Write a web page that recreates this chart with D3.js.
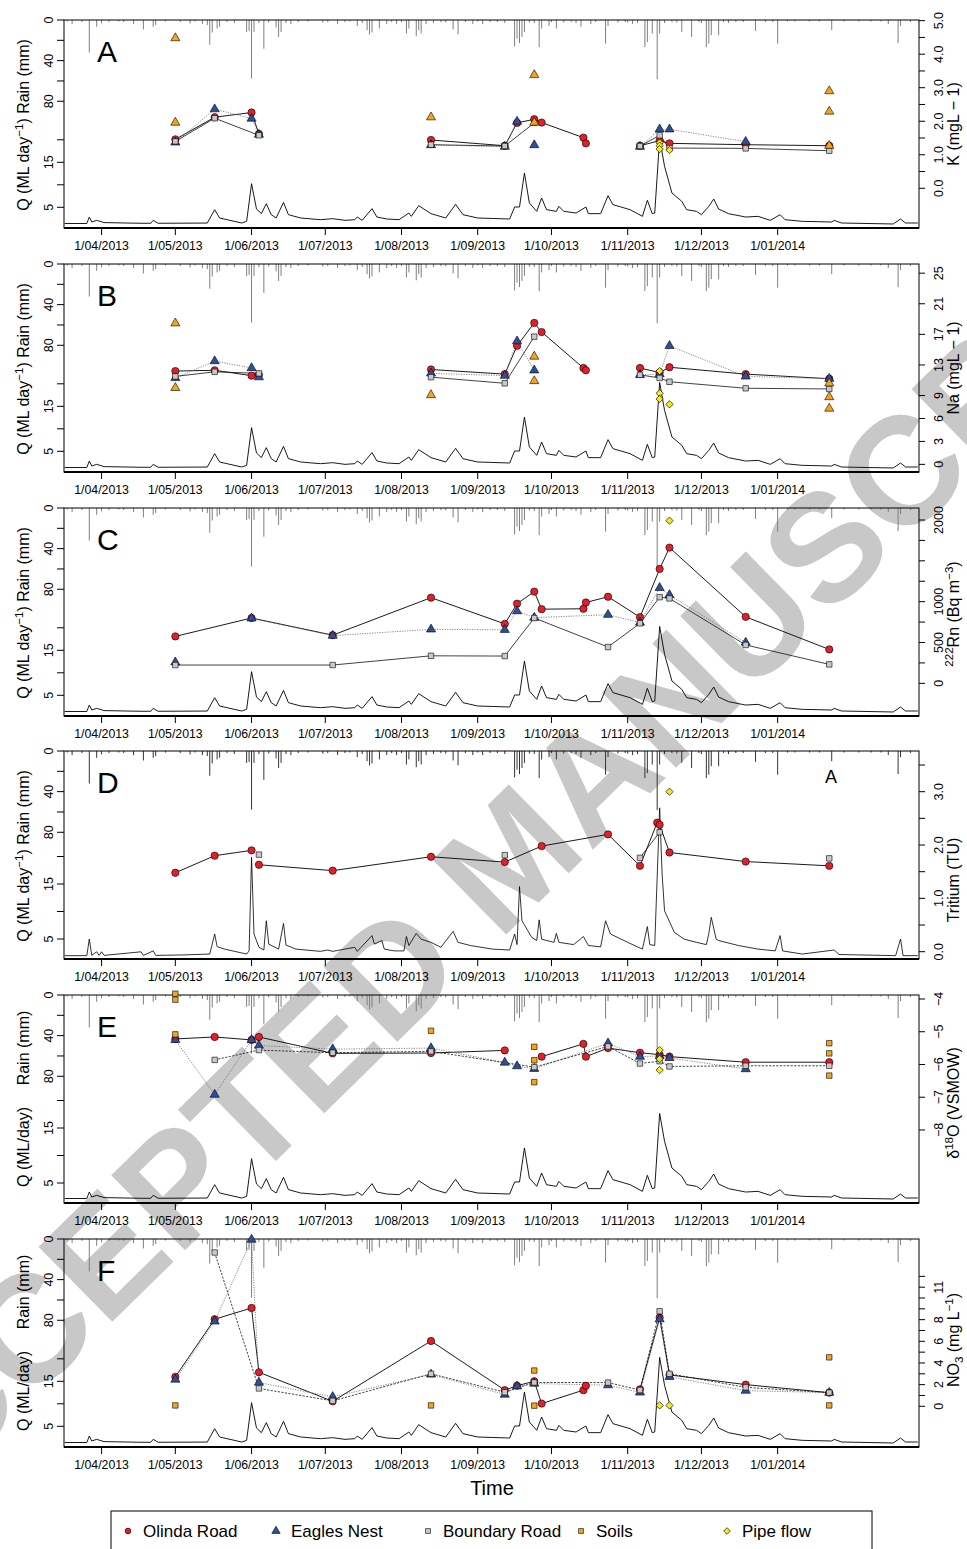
<!DOCTYPE html>
<html>
<head>
<meta charset="utf-8">
<script src="https://cdn.jsdelivr.net/npm/d3@7"></script>
<style>
  body { margin: 0; background: #fff; }
  svg { display: block; font-family: "Liberation Sans", Arial, Helvetica, sans-serif; }
</style>
</head>
<body>
<svg id="chart" width="967" height="1549"></svg>
<script>
// ---- data ----

// daily rain (mm)
var rain = [
  ["2013-03-18",1.5],["2013-03-20",4],["2013-03-24",2],["2013-03-27",32],["2013-03-30",6.7],["2013-04-01",3.3],
  ["2013-04-04",2],["2013-04-08",1.5],["2013-04-10",2],["2013-04-14",4],["2013-04-18",9.3],["2013-04-22",6.7],
  ["2013-04-23",5],["2013-04-27",1.5],["2013-05-03",2],["2013-05-07",3.3],["2013-05-09",1.5],["2013-05-12",4],
  ["2013-05-14",5],["2013-05-15",24.3],["2013-05-16",12.3],["2013-05-18",8.3],["2013-05-19",6.7],["2013-05-22",2],
  ["2013-05-25",3],["2013-05-30",11.7],["2013-05-31",10.7],["2013-06-01",57.7],["2013-06-02",11.7],["2013-06-04",3],
  ["2013-06-06",28.3],["2013-06-08",2.5],["2013-06-11",7.3],["2013-06-12",16.7],["2013-06-13",11.7],["2013-06-15",3],
  ["2013-06-17",4],["2013-06-20",2],["2013-06-24",1.5],["2013-06-30",2.7],["2013-07-02",2],["2013-07-06",4],
  ["2013-07-09",2],["2013-07-11",1.5],["2013-07-14",6],["2013-07-16",3],["2013-07-18",10],["2013-07-19",14.3],
  ["2013-07-20",12.3],["2013-07-23",8.3],["2013-07-26",4],["2013-07-28",2],["2013-07-30",4],["2013-08-01",2],
  ["2013-08-03",13.3],["2013-08-04",8.3],["2013-08-07",16],["2013-08-08",10],["2013-08-09",13.3],["2013-08-11",4],
  ["2013-08-14",3],["2013-08-17",2],["2013-08-19",2.5],["2013-08-22",9.3],["2013-08-24",14],["2013-08-27",2],
  ["2013-08-30",4],["2013-09-01",1.5],["2013-09-03",4],["2013-09-06",2],["2013-09-09",2],["2013-09-12",3],
  ["2013-09-16",26],["2013-09-17",18.3],["2013-09-18",22.7],["2013-09-19",16.7],["2013-09-20",11.7],["2013-09-22",2.5],
  ["2013-09-24",3],["2013-09-26",26.7],["2013-09-27",8.3],["2013-09-30",6],["2013-10-01",2],["2013-10-03",8.3],
  ["2013-10-06",2.5],["2013-10-09",2],["2013-10-11",3],["2013-10-13",6.7],["2013-10-17",4],["2013-10-19",2],
  ["2013-10-23",23.3],["2013-10-24",6],["2013-10-28",2.5],["2013-10-31",2],["2013-11-01",2.5],["2013-11-03",4],
  ["2013-11-05",3],["2013-11-08",26.7],["2013-11-09",21.7],["2013-11-11",13.3],["2013-11-13",58.3],["2013-11-14",13.3],
  ["2013-11-16",3],["2013-11-19",2],["2013-11-21",2.5],["2013-11-23",11.7],["2013-11-27",16.7],["2013-11-30",2],
  ["2013-12-01",3],["2013-12-03",26.7],["2013-12-04",23.3],["2013-12-05",15],["2013-12-08",15],["2013-12-10",2],
  ["2013-12-12",3],["2013-12-15",2],["2013-12-18",2],["2013-12-23",10.7],["2013-12-27",2],["2013-12-30",2],
  ["2014-01-01",23.3],["2014-01-05",1.5],["2014-01-08",1.5],["2014-01-14",1.5],["2014-01-18",1.5],["2014-01-23",10],
  ["2014-01-28",1.5],["2014-02-03",1.5],["2014-02-08",1.5],["2014-02-12",1.5],["2014-02-15",4],["2014-02-19",22.7],
  ["2014-02-20",6],["2014-02-24",2]
];

// daily discharge Q (ML/day)
var flowDaily = [
  ["2013-03-17",1.4],["2013-03-26",1.4],["2013-03-27",2.84],["2013-03-28",1.73],["2013-03-30",2.1],["2013-04-02",1.6],
  ["2013-04-17",1.45],["2013-04-21",1.45],["2013-04-22",2.1],["2013-04-24",1.45],["2013-05-14",1.5],["2013-05-17",4.47],
  ["2013-05-19",2.62],["2013-05-22",2.25],["2013-05-28",1.51],["2013-05-30",1.88],["2013-06-01",10.25],["2013-06-03",4.62],
  ["2013-06-05",3.59],["2013-06-07",5.81],["2013-06-09",3.36],["2013-06-11",2.62],["2013-06-14",6.1],["2013-06-16",3.36],
  ["2013-06-21",2.62],["2013-06-29",2.25],["2013-07-04",2.47],["2013-07-09",2.1],["2013-07-13",2.25],["2013-07-14",2.84],
  ["2013-07-16",2.1],["2013-07-20",4.7],["2013-07-22",2.84],["2013-07-26",2.4],["2013-07-31",2.25],["2013-08-04",3.73],
  ["2013-08-05",2.99],["2013-08-08",5.36],["2013-08-13",3.59],["2013-08-19",2.62],["2013-08-23",5.66],["2013-08-26",3.36],
  ["2013-09-01",2.62],["2013-09-14",2.4],["2013-09-16",5.07],["2013-09-18",5.07],["2013-09-20",12.62],["2013-09-22",5.96],
  ["2013-09-25",4.1],["2013-09-27",7.07],["2013-09-29",4.47],["2013-10-03",4.1],["2013-10-04",5.21],["2013-10-06",4.1],
  ["2013-10-11",3.73],["2013-10-15",5.07],["2013-10-16",3.59],["2013-10-21",3.59],["2013-10-24",7.59],["2013-10-26",5.59],
  ["2013-11-02",4.47],["2013-11-07",2.99],["2013-11-09",6.55],["2013-11-11",3.59],["2013-11-12",3.73],["2013-11-14",20.3],
  ["2013-11-16",14.1],["2013-11-19",8.18],["2013-11-23",6.33],["2013-11-25",4.47],["2013-11-29",4.1],["2013-12-01",3.36],
  ["2013-12-04",5.21],["2013-12-06",6.84],["2013-12-08",4.62],["2013-12-12",3.59],["2013-12-19",2.84],["2013-12-24",2.99],
  ["2013-12-29",2.1],["2014-01-02",3.36],["2014-01-04",2.25],["2014-01-11",1.88],["2014-01-23",1.73],["2014-01-24",2.1],
  ["2014-01-27",1.51],["2014-02-17",1.29],["2014-02-20",2.4],["2014-02-22",1.51],["2014-02-27",1.51]
];

// finer discharge record shown in panel D
var flowFine = [
  ["2013-03-17",1.14],["2013-03-26",1.14],["2013-03-27",4.84],["2013-03-28",1.2],["2013-03-30",2.0],["2013-03-31",1.2],
  ["2013-04-01",2.0],["2013-04-02",1.2],["2013-04-17",2.0],["2013-04-18",1.2],["2013-04-22",2.2],["2013-04-23",1.2],
  ["2013-05-04",1.3],["2013-05-15",1.5],["2013-05-17",5.96],["2013-05-18",3.14],["2013-05-21",2.6],["2013-05-30",1.5],
  ["2013-05-31",2.2],["2013-06-01",23],["2013-06-02",5.96],["2013-06-04",3.0],["2013-06-06",2.4],["2013-06-07",8.9],
  ["2013-06-08",3.7],["2013-06-12",2.6],["2013-06-14",8.3],["2013-06-15",3.5],["2013-06-19",2.6],["2013-06-29",2.1],
  ["2013-07-02",2.4],["2013-07-04",2.1],["2013-07-06",2.3],["2013-07-13",3.0],["2013-07-14",2.1],["2013-07-20",5.6],
  ["2013-07-21",3.7],["2013-07-24",4.5],["2013-07-25",2.6],["2013-07-29",2.2],["2013-08-02",2.2],["2013-08-03",5.4],
  ["2013-08-04",3.4],["2013-08-07",6.1],["2013-08-09",4.8],["2013-08-13",4.1],["2013-08-17",3.0],["2013-08-22",6.55],
  ["2013-08-24",4.1],["2013-08-29",3.4],["2013-09-07",2.6],["2013-09-14",2.4],["2013-09-16",5.96],["2013-09-17",3.6],
  ["2013-09-18",16.5],["2013-09-19",8.9],["2013-09-23",5.2],["2013-09-25",4.5],["2013-09-26",9.1],["2013-09-27",4.8],
  ["2013-10-02",4.1],["2013-10-03",6.1],["2013-10-04",4.1],["2013-10-10",3.6],["2013-10-14",5.4],["2013-10-16",3.4],
  ["2013-10-21",3.1],["2013-10-23",8.9],["2013-10-25",5.96],["2013-11-01",4.1],["2013-11-07",2.6],["2013-11-09",7.6],
  ["2013-11-10",3.6],["2013-11-12",3.4],["2013-11-14",34],["2013-11-15",19.3],["2013-11-16",11.1],["2013-11-20",6.3],
  ["2013-11-24",4.8],["2013-11-29",4.1],["2013-12-03",3.6],["2013-12-04",6.0],["2013-12-05",9.66],["2013-12-07",4.8],
  ["2013-12-08",4.5],["2013-12-16",3.4],["2013-12-24",2.6],["2013-12-31",2.2],["2014-01-02",5.6],["2014-01-03",2.2],
  ["2014-01-11",1.5],["2014-01-24",2.4],["2014-01-26",1.4],["2014-02-18",1.14],["2014-02-20",4.84],["2014-02-21",1.14],
  ["2014-02-27",1.14]
];

// A: potassium (mg/L); null = break in the line
var kOlinda = [["2013-05-01",1.46],["2013-05-17",2.12],["2013-06-01",2.26],["2013-06-04",1.62],null,["2013-08-13",1.44],["2013-09-12",1.27],["2013-09-17",1.95],["2013-09-24",2.06],["2013-09-27",1.96],["2013-10-14",1.51],["2013-10-15",1.34],null,["2013-11-06",1.27],["2013-11-14",1.42],["2013-11-18",1.34],["2013-12-19",1.30],["2014-01-22",1.27]];
var kEagles = [["2013-05-01",1.37],["2013-05-17",2.36],["2013-06-01",2.08],["2013-06-04",1.60],null,["2013-08-13",1.29],["2013-09-12",1.24],["2013-09-17",1.99],null,["2013-09-24",1.29],null,["2013-11-06",1.24],["2013-11-14",1.76],["2013-11-18",1.76],["2013-12-19",1.39]];
var kBoundary = [["2013-05-01",1.40],["2013-05-17",2.09],["2013-06-04",1.58],null,["2013-08-13",1.30],["2013-09-12",1.26],["2013-09-24",1.95],null,["2013-11-06",1.26],["2013-11-14",1.58],["2013-11-18",1.20],["2013-12-19",1.19],["2014-01-22",1.12]];
var kSoils = [["2013-05-01",4.48],["2013-05-01",1.96],["2013-08-13",2.12],["2013-09-24",3.38],["2013-09-24",1.96],["2014-01-22",2.90],["2014-01-22",2.29],["2014-01-22",1.27]];
var kPipe = [["2013-11-14",1.36],["2013-11-14",1.27],["2013-11-14",1.17],["2013-11-18",1.14]];

// B: sodium (mg/L)
var naOlinda = [["2013-05-01",12.2],["2013-05-17",12.3],["2013-06-01",11.6],["2013-06-04",11.7],null,["2013-08-13",12.4],["2013-09-12",11.8],["2013-09-17",15.5],["2013-09-24",18.5],["2013-09-27",17.3],["2013-10-14",12.6],["2013-10-15",12.3],null,["2013-11-06",12.6],["2013-11-14",12.0],["2013-11-18",12.7],["2013-12-19",11.8],["2014-01-22",11.2]];
var naEagles = [["2013-05-01",11.3],["2013-05-17",13.5],["2013-06-01",12.6],["2013-06-04",11.4],null,["2013-08-13",11.9],["2013-09-12",11.6],["2013-09-17",16.1],["2013-09-24",12.3],null,["2013-11-06",11.7],["2013-11-14",11.8],["2013-11-18",15.5],["2013-12-19",11.5],["2014-01-22",11.2]];
var naBoundary = [["2013-05-01",11.5],["2013-05-17",12.1],["2013-06-04",11.9],null,["2013-08-13",11.4],["2013-09-12",10.6],["2013-09-24",16.7],null,["2013-11-06",11.7],["2013-11-14",11.3],["2013-11-18",10.8],["2013-12-19",9.95],["2014-01-22",9.86]];
var naSoils = [["2013-05-01",18.45],["2013-05-01",10.0],["2013-08-13",9.07],["2013-09-24",14.1],["2013-09-24",10.9],["2014-01-22",10.6],["2014-01-22",8.8],["2014-01-22",7.3]];
var naPipe = [["2013-11-14",12.2],["2013-11-14",9.3],["2013-11-14",8.55],["2013-11-18",7.85]];

// C: radon (Bq/m3)
var rnOlinda = [["2013-05-01",575],["2013-06-01",800],["2013-07-04",590],["2013-08-13",1049],["2013-09-12",728],["2013-09-17",976],["2013-09-24",1123],["2013-09-27",908],["2013-10-14",913],["2013-10-15",990],["2013-10-24",1060],["2013-11-06",810],["2013-11-14",1401],["2013-11-18",1662],["2013-12-19",814],["2014-01-22",415]];
var rnEagles = [["2013-05-01",258],null,["2013-06-01",796],["2013-07-04",584],["2013-08-13",661],["2013-09-12",656],["2013-09-17",884],["2013-09-24",805],["2013-10-24",840],["2013-11-06",745],["2013-11-14",1169],["2013-11-18",1082],["2013-12-19",500]];
var rnBoundary = [["2013-05-01",224],["2013-07-04",224],["2013-08-13",337],["2013-09-12",334],["2013-09-24",800],["2013-10-24",445],["2013-11-06",735],["2013-11-14",1055],["2013-11-18",1040],["2013-12-19",470],["2014-01-22",232]];
var rnPipe = [["2013-11-18",1992]];

// D: tritium (TU)
var trOlinda = [["2013-05-01",1.48],["2013-05-17",1.80],["2013-06-01",1.90],null,["2013-06-04",1.63],["2013-07-04",1.52],["2013-08-13",1.78],["2013-09-12",1.68],["2013-09-27",1.98],["2013-10-24",2.20],["2013-11-06",1.61],["2013-11-13",2.42],["2013-11-14",2.38],["2013-11-18",1.86],["2013-12-19",1.69],["2014-01-22",1.61]];
var trBoundary = [["2013-06-04",1.82],null,["2013-09-12",1.81],null,["2013-11-06",1.76],["2013-11-14",2.24],null,["2014-01-22",1.75]];
var trPipe = [["2013-11-18",3.0]];

// E: delta 18O (per mil VSMOW)
var oOlinda = [["2013-05-01",-5.22],["2013-05-17",-5.16],["2013-06-01",-5.25],null,["2013-06-04",-5.16],["2013-07-04",-5.66],["2013-08-13",-5.65],["2013-09-12",-5.57],null,["2013-09-27",-5.76],["2013-10-14",-5.37],["2013-10-15",-5.76],["2013-10-24",-5.5],["2013-11-06",-5.64],["2013-11-14",-5.7],["2013-11-18",-5.76],["2013-12-19",-5.93],["2014-01-22",-5.93]];
var oEagles = [["2013-05-01",-5.25],["2013-05-17",-6.92],["2013-06-01",-5.25],["2013-06-04",-5.42],["2013-07-04",-5.53],["2013-08-13",-5.5],["2013-09-12",-5.94],["2013-09-17",-6.05],["2013-09-24",-6.13],["2013-10-24",-5.35],["2013-11-06",-5.76],["2013-11-14",-5.74],["2013-11-18",-5.8],["2013-12-19",-6.14]];
var oBoundary = [["2013-05-17",-5.86],["2013-06-04",-5.56],["2013-07-04",-5.64],["2013-08-13",-5.6],["2013-09-24",-6.08],["2013-10-24",-5.45],["2013-11-06",-5.97],["2013-11-14",-5.9],["2013-11-18",-6.06],["2013-12-19",-6.04],["2014-01-22",-6.04]];
var oSoils = [["2013-05-01",-3.84],["2013-05-01",-4.02],["2013-05-01",-5.08],["2013-08-13",-4.97],["2013-09-24",-5.46],["2013-09-24",-5.87],["2013-09-24",-6.54],["2014-01-22",-5.35],["2014-01-22",-5.66],["2014-01-22",-6.34]];
var oPipe = [["2013-11-14",-5.56],["2013-11-14",-5.83],["2013-11-14",-6.17]];

// F: nitrate (mg/L)
var no3Olinda = [["2013-05-01",2.72],["2013-05-17",8.04],["2013-06-01",9.08],["2013-06-04",3.14],["2013-07-04",0.46],["2013-08-13",6.03],["2013-09-12",1.49],["2013-09-17",1.9],["2013-09-24",2.31],["2013-09-27",0.25],["2013-10-14",1.49],["2013-10-15",1.9],null,["2013-11-06",1.57],["2013-11-14",8.2],["2013-11-18",2.9],["2013-12-19",2.0],["2014-01-22",1.26]];
var no3Eagles = [["2013-05-01",2.47],["2013-05-17",7.84],["2013-06-01",15.4],["2013-06-04",2.19],["2013-07-04",0.87],["2013-08-13",2.94],["2013-09-12",1.08],["2013-09-17",1.85],["2013-09-24",2.1],["2013-10-24",1.95],["2013-11-06",1.28],["2013-11-14",8.04],["2013-11-18",2.72],["2013-12-19",1.45],["2014-01-22",1.26]];
var no3Boundary = [["2013-05-17",14.2],["2013-06-04",1.65],["2013-07-04",0.5],["2013-08-13",3.0],["2013-09-12",1.3],["2013-09-24",2.2],["2013-10-24",2.19],["2013-11-06",1.5],["2013-11-14",8.78],["2013-11-18",3.0],["2013-12-19",1.75],["2014-01-22",1.26]];
var no3Soils = [["2013-05-01",0.08],["2013-08-13",0.08],["2013-09-24",3.3],["2013-09-24",0.06],["2014-01-22",4.52],["2014-01-22",0.08]];
var no3Pipe = [["2013-11-14",0.08],["2013-11-18",0.08]];

// axis values
var rainTicks = [0, 20, 40, 60, 80];
var rainLabels = [0, 40, 80];
var qTicks = [5, 10, 15, 20];
var qLabels = [5, 15];
var legendNames = ["Olinda Road", "Eagles Nest", "Boundary Road", "Soils", "Pipe flow"];

// ---- layout ----
var svg = d3.select('#chart');
var X0 = 64, X1 = 919, PH = 208;
var parseDay = d3.timeParse('%Y-%m-%d');
var x = d3.scaleTime()
    .domain([new Date(2013, 2, 16, 17), new Date(2014, 1, 27, 12)])
    .range([X0, X1]);
var monthTicks = d3.timeMonth.range(new Date(2013, 3, 1), new Date(2014, 0, 2));
var fmtDay = d3.timeFormat('%-d/%m/%Y');

var colors = { olinda: '#e3202a', eagles: '#2d4f9c', boundary: '#c9c9c9', soils: '#f5a31d', pipe: '#f3e91a' };

// watermark sits underneath everything
svg.append('text')
    .attr('transform', 'translate(510,856) rotate(-44.5)')
    .attr('text-anchor', 'middle')
    .attr('dominant-baseline', 'central')
    .attr('font-size', 153)
    .attr('font-weight', 'bold')
    .attr('fill', '#c8c8c8')
    .text('ACCEPTED MANUSCRIPT');

var panels = [
  { letter: 'A', top: 20, olinda: kOlinda, eagles: kEagles, boundary: kBoundary, soils: kSoils, soilShape: 'triangle', pipe: kPipe,
    rDomain: [-1.185, 5.02], rTicks: d3.range(0, 5.01, 0.5), rLabels: [0, 1, 2, 3, 4, 5], rFmt: d3.format('.1f'),
    rTitle: [['K (mgL \u2212 1)', 0]], rTitleShift: 0 },
  { letter: 'B', top: 264, olinda: naOlinda, eagles: naEagles, boundary: naBoundary, soils: naSoils, soilShape: 'triangle', pipe: naPipe,
    rDomain: [-1.0, 26.2], rTicks: [0, 3, 6, 9, 13, 17, 21, 25], rLabels: [0, 3, 6, 9, 13, 17, 21, 25], rFmt: d3.format('d'),
    rTitle: [['Na (mgL \u2212 1)', 0]], rTitleShift: 0 },
  { letter: 'C', top: 508, olinda: rnOlinda, eagles: rnEagles, boundary: rnBoundary, soils: [], pipe: rnPipe,
    rDomain: [-400, 2147], rTicks: d3.range(0, 2001, 250), rLabels: [0, 500, 1000, 2000], rFmt: d3.format('d'),
    rTitle: [['222', 1], ['Rn (Bq m', 0], ['\u22123', 1], [')', 0]], rTitleShift: 2 },
  { letter: 'D', top: 751, olinda: trOlinda, eagles: [], boundary: trBoundary, soils: [], pipe: trPipe, fine: true, altQ: true,
    rDomain: [-0.137, 3.763], rTicks: d3.range(0, 3.51, 0.5), rLabels: [0, 1, 2, 3], rFmt: d3.format('.1f'),
    rTitle: [['Tritium (TU)', 0]], rTitleShift: 25, extra: 'A' },
  { letter: 'E', top: 995, olinda: oOlinda, eagles: oEagles, boundary: oBoundary, soils: oSoils, soilShape: 'square', pipe: oPipe, altQ: true, split: true, dashBoundary: true,
    rDomain: [-10.23, -3.878], rTicks: [-4, -5, -6, -7, -8], rLabels: [-4, -5, -6, -7, -8], rFmt: d3.format('d'),
    rTitle: [['\u03b4', 0], ['18', 1], ['O (VSMOW)', 0]], rTitleShift: 4 },
  { letter: 'F', top: 1239, olinda: no3Olinda, eagles: no3Eagles, boundary: no3Boundary, soils: no3Soils, soilShape: 'square', pipe: no3Pipe, split: true, dashBoundary: true,
    rDomain: [-3.76, 15.45], rTicks: d3.range(0, 12.1, 1), rLabels: [0, 2, 4, 6, 8, 11], rFmt: d3.format('d'),
    rTitle: [['NO', 0], ['3', -1], [' (mg L', 0], ['\u22121', 1], [')', 0]], rTitleShift: -3 }
];

// marker generators
var shapes = {
    circle: d3.symbol().type(d3.symbolCircle).size(42)(),
    triangle: d3.symbol().type(d3.symbolTriangle).size(36)(),
    square: d3.symbol().type(d3.symbolSquare).size(30)(),
    diamond: d3.symbol().type(d3.symbolSquare).size(27)()
};

function rotLabel(g, tx, ty, size, parts) {
    var t = g.append('text')
        .attr('transform', 'translate(' + tx + ',' + ty + ') rotate(-90)')
        .attr('text-anchor', 'middle')
        .attr('font-size', size)
        .attr('fill', '#000');
    var prev = 0;
    parts.forEach(function (p) {
        var shift = p[1] === 1 ? -6 : (p[1] === -1 ? 4 : 0);
        t.append('tspan')
            .attr('dy', shift - prev)
            .attr('font-size', p[1] ? size * 0.72 : size)
            .text(p[0]);
        prev = shift;
    });
    return t;
}

panels.forEach(function (p) {
    var top = p.top, bottom = p.top + PH;
    var g = svg.append('g');

    var rainY = d3.scaleLinear().domain([0, 100]).range([top, top + 101.6]);
    var qY = d3.scaleLinear().domain([0.4, 0.4 + PH / 4.5]).range([bottom, top]);
    var qAxisY = p.altQ ? d3.scaleLinear().domain([5, 15]).range([bottom - 20, bottom - 75]) : qY;
    var rY = d3.scaleLinear().domain(p.rDomain).range([bottom, top]);

    // rain bars hang from the top
    g.append('g').selectAll('line')
        .data(rain)
        .join('line')
        .attr('x1', function (d) { return x(parseDay(d[0])); })
        .attr('x2', function (d) { return x(parseDay(d[0])); })
        .attr('y1', rainY(0))
        .attr('y2', function (d) { return rainY(d[1]); })
        .attr('stroke', p.fine ? '#333' : '#7f7f7f')
        .attr('stroke-width', 1);

    // hydrograph
    var flow = p.fine ? flowFine : flowDaily;
    g.append('path')
        .datum(flow)
        .attr('d', d3.line()
            .x(function (d) { return x(parseDay(d[0])); })
            .y(function (d) { return qY(d[1]); }))
        .attr('fill', 'none')
        .attr('stroke', '#000')
        .attr('stroke-width', p.fine ? 0.8 : 0.9)
        .attr('stroke-linejoin', 'round');

    // frame
    g.append('rect')
        .attr('x', X0).attr('y', top).attr('width', X1 - X0).attr('height', PH)
        .attr('fill', 'none').attr('stroke', '#000').attr('stroke-width', 1);
    g.append('line')
        .attr('x1', X0).attr('x2', X1).attr('y1', bottom).attr('y2', bottom)
        .attr('stroke', '#000').attr('stroke-width', 2);

    // sample lines
    var lineGen = d3.line()
        .defined(function (d) { return d; })
        .x(function (d) { return x(parseDay(d[0])); })
        .y(function (d) { return rY(d[1]); });
    var lineStyles = [
        { rows: p.olinda, stroke: '#000', dash: null, w: 0.9 },
        { rows: p.eagles, stroke: '#6a6a6a', dash: '1.2,1.3', w: 0.8 },
        { rows: p.boundary, stroke: '#111', dash: p.dashBoundary ? '2.2,1.4' : null, w: 0.8 }
    ];
    lineStyles.forEach(function (s) {
        if (!s.rows.length) return;
        g.append('path')
            .datum(s.rows)
            .attr('d', lineGen)
            .attr('fill', 'none')
            .attr('stroke', s.stroke)
            .attr('stroke-width', s.w)
            .attr('stroke-dasharray', s.dash);
    });

    // markers
    var markerSets = [
        { rows: p.olinda, shape: 'circle', fill: colors.olinda },
        { rows: p.eagles, shape: 'triangle', fill: colors.eagles },
        { rows: p.boundary, shape: 'square', fill: colors.boundary },
        { rows: p.soils, shape: p.soilShape || 'square', fill: colors.soils },
        { rows: p.pipe, shape: 'diamond', fill: colors.pipe }
    ];
    markerSets.forEach(function (m) {
        g.append('g').selectAll('path')
            .data(m.rows.filter(function (d) { return d; }))
            .join('path')
            .attr('d', shapes[m.shape])
            .attr('transform', function (d) {
                return 'translate(' + x(parseDay(d[0])) + ',' + rY(d[1]) + ')' + (m.shape === 'diamond' ? ' rotate(45)' : '');
            })
            .attr('fill', m.fill)
            .attr('stroke', '#000')
            .attr('stroke-width', 0.6);
    });

    // bottom axis
    var xa = g.append('g');
    xa.selectAll('line')
        .data(monthTicks)
        .join('line')
        .attr('x1', function (d) { return x(d); }).attr('x2', function (d) { return x(d); })
        .attr('y1', bottom).attr('y2', bottom + 7)
        .attr('stroke', '#000');
    xa.selectAll('text')
        .data(monthTicks)
        .join('text')
        .attr('x', function (d) { return x(d); })
        .attr('y', bottom + 22)
        .attr('text-anchor', 'middle')
        .attr('font-size', 12.3)
        .text(fmtDay);

    // left axis: rain on top, Q below
    var la = g.append('g');
    rainTicks.forEach(function (v) {
        la.append('line').attr('x1', X0 - 7).attr('x2', X0).attr('y1', rainY(v)).attr('y2', rainY(v)).attr('stroke', '#000');
    });
    rainLabels.forEach(function (v) {
        rotLabel(la, 52.5, rainY(v), 12.5, [[String(v), 0]]);
    });
    qTicks.forEach(function (v) {
        la.append('line').attr('x1', X0 - 7).attr('x2', X0).attr('y1', qAxisY(v)).attr('y2', qAxisY(v)).attr('stroke', '#000');
    });
    qLabels.forEach(function (v) {
        rotLabel(la, 52.5, qAxisY(v), 12.5, [[String(v), 0]]);
    });
    if (p.split) {
        rotLabel(la, 29, top + 53, 16, [['Rain (mm)', 0]]);
        rotLabel(la, 29, top + 152, 16, [['Q (ML/day)', 0]]);
    } else {
        rotLabel(la, 29, top + PH / 2 + 1, 16, [['Q (ML day', 0], ['\u22121', 1], [')  Rain (mm)', 0]]);
    }

    // right axis
    var ra = g.append('g');
    p.rTicks.forEach(function (v) {
        ra.append('line').attr('x1', X1).attr('x2', X1 + 6).attr('y1', rY(v)).attr('y2', rY(v)).attr('stroke', '#000');
    });
    p.rLabels.forEach(function (v) {
        rotLabel(ra, 942.5, rY(v), 12.5, [[p.rFmt(v), 0]]);
    });
    rotLabel(ra, 959, top + PH / 2 + p.rTitleShift, 16, p.rTitle);

    // panel letter
    g.append('text')
        .attr('x', 97).attr('y', top + 42)
        .attr('font-size', 30)
        .text(p.letter);
    if (p.extra) {
        g.append('text')
            .attr('x', 831).attr('y', top + 32)
            .attr('text-anchor', 'middle')
            .attr('font-size', 18)
            .text(p.extra);
    }
});

// x axis title
svg.append('text')
    .attr('x', 492).attr('y', 1495)
    .attr('text-anchor', 'middle')
    .attr('font-size', 20)
    .text('Time');

// legend
var leg = svg.append('g');
leg.append('rect')
    .attr('x', 111).attr('y', 1511).attr('width', 761).attr('height', 60)
    .attr('fill', 'none').attr('stroke', '#000').attr('stroke-width', 1);
var legX = [128, 276, 428, 581, 727];
var legShapes = ['circle', 'triangle', 'square', 'square', 'diamond'];
var legFills = [colors.olinda, colors.eagles, colors.boundary, colors.soils, colors.pipe];
var legSize = { circle: 26, triangle: 30, square: 24, diamond: 22 };
legendNames.forEach(function (name, i) {
    leg.append('path')
        .attr('d', d3.symbol().type(legShapes[i] === 'circle' ? d3.symbolCircle : legShapes[i] === 'triangle' ? d3.symbolTriangle : d3.symbolSquare).size(legSize[legShapes[i]])())
        .attr('transform', 'translate(' + legX[i] + ',1531)' + (legShapes[i] === 'diamond' ? ' rotate(45)' : ''))
        .attr('fill', legFills[i])
        .attr('stroke', '#000')
        .attr('stroke-width', 0.6);
    leg.append('text')
        .attr('x', legX[i] + 15).attr('y', 1537)
        .attr('font-size', 17)
        .text(name);
});
</script>
</body>
</html>
